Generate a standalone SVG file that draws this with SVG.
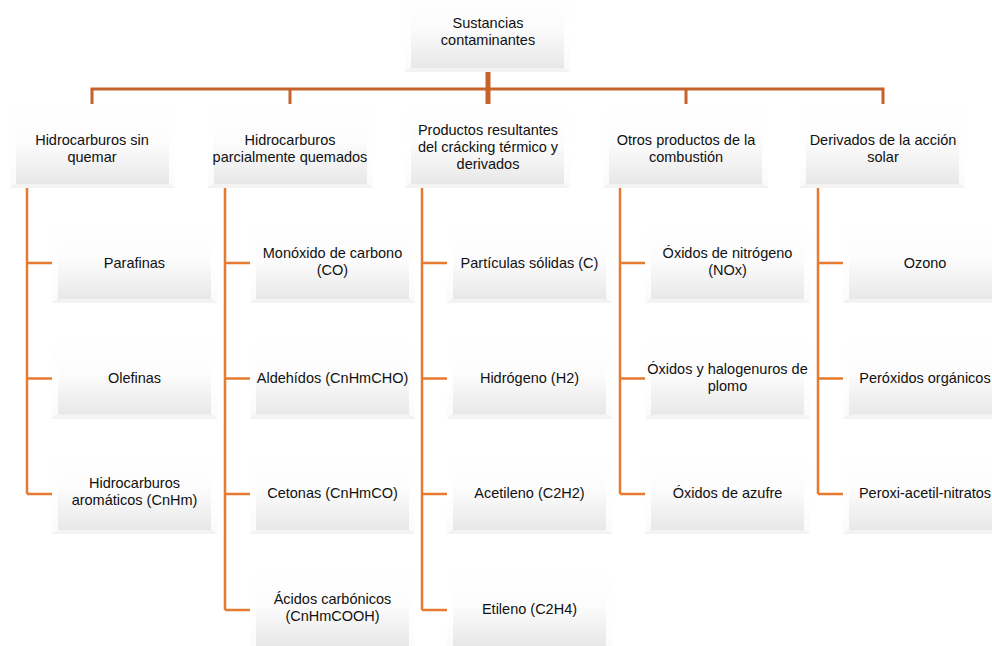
<svg xmlns="http://www.w3.org/2000/svg" xmlns:xlink="http://www.w3.org/1999/xlink" width="992" height="646" viewBox="0 0 992 646">
<defs>
<linearGradient id="gMain" x1="0" y1="0" x2="0" y2="1">
<stop offset="0" stop-color="#ffffff"/>
<stop offset="0.45" stop-color="#fcfcfc"/>
<stop offset="1" stop-color="#e6e6e6"/>
</linearGradient>
<linearGradient id="gEdge" x1="0" y1="0" x2="0" y2="1">
<stop offset="0" stop-color="#ffffff" stop-opacity="0"/>
<stop offset="0.5" stop-color="#ffffff" stop-opacity="0.95"/>
<stop offset="1" stop-color="#ffffff" stop-opacity="0.8"/>
</linearGradient>
<g id="boxL">
<rect x="0" y="0" width="165" height="83" fill="url(#gMain)"/>
<polygon points="0,0 6,8 6,79 0,83" fill="url(#gEdge)"/>
<polygon points="165,0 159,8 159,79 165,83" fill="url(#gEdge)"/>
<polygon points="0,83 6,79 159,79 165,83" fill="#f3f3f3"/>
</g>
<g id="boxC">
<rect x="0" y="0" width="165" height="80" fill="url(#gMain)"/>
<polygon points="0,0 6,8 6,76 0,80" fill="url(#gEdge)"/>
<polygon points="165,0 159,8 159,76 165,80" fill="url(#gEdge)"/>
<polygon points="0,80 6,76 159,76 165,80" fill="#f3f3f3"/>
</g>
</defs>
<style>
text{font-family:"Liberation Sans",Arial,sans-serif;font-size:14.5px;fill:#111111;text-anchor:middle}
.top{stroke:#C5622A;fill:none}
.ch{stroke:#E57A30;stroke-width:2.5;fill:none}
</style>
<g id="connectors">
<line class="top" x1="488" y1="72" x2="488" y2="104" stroke-width="5"/>
<polyline class="top" points="92,104 92,89 883,89 883,104" stroke-width="3"/>
<line class="top" x1="290" y1="89" x2="290" y2="104" stroke-width="3"/>
<line class="top" x1="686" y1="89" x2="686" y2="104" stroke-width="3"/>
<path class="ch" d="M27,188V494M27,263H52M27,378.5H52M27,494H52"/>
<path class="ch" d="M225,188V610M225,263H250M225,378.5H250M225,494H250M225,610H250"/>
<path class="ch" d="M422,188V610M422,263H447M422,378.5H447M422,494H447M422,610H447"/>
<path class="ch" d="M620,188V494M620,263H645M620,378.5H645M620,494H645"/>
<path class="ch" d="M818,188V494M818,263H843M818,378.5H843M818,494H843"/>
</g>
<g id="root"><use xlink:href="#boxL" x="405" y="-11"/><text x="488" y="28">Sustancias</text><text x="488" y="45">contaminantes</text></g>
<g id="n1"><use xlink:href="#boxL" x="10" y="105"/><text x="92" y="145">Hidrocarburos sin</text><text x="92" y="162">quemar</text></g>
<g id="n2"><use xlink:href="#boxL" x="208" y="105"/><text x="290" y="145">Hidrocarburos</text><text x="290" y="162">parcialmente quemados</text></g>
<g id="n3"><use xlink:href="#boxL" x="405" y="105"/><text x="488" y="135">Productos resultantes</text><text x="488" y="152">del crácking térmico y</text><text x="488" y="169">derivados</text></g>
<g id="n4"><use xlink:href="#boxL" x="603" y="105"/><text x="686" y="145">Otros productos de la</text><text x="686" y="162">combustión</text></g>
<g id="n5"><use xlink:href="#boxL" x="800" y="105"/><text x="883" y="145">Derivados de la acción</text><text x="883" y="162">solar</text></g>
<g id="c1a"><use xlink:href="#boxC" x="52" y="223"/><text x="134.5" y="268">Parafinas</text></g>
<g id="c1b"><use xlink:href="#boxC" x="52" y="338.5"/><text x="134.5" y="383">Olefinas</text></g>
<g id="c1c"><use xlink:href="#boxC" x="52" y="454"/><text x="134.5" y="488">Hidrocarburos</text><text x="134.5" y="505">aromáticos (CnHm)</text></g>
<g id="c2a"><use xlink:href="#boxC" x="250" y="223"/><text x="332.5" y="258">Monóxido de carbono</text><text x="332.5" y="275">(CO)</text></g>
<g id="c2b"><use xlink:href="#boxC" x="250" y="338.5"/><text x="332.5" y="383">Aldehídos (CnHmCHO)</text></g>
<g id="c2c"><use xlink:href="#boxC" x="250" y="454"/><text x="332.5" y="498">Cetonas (CnHmCO)</text></g>
<g id="c2d"><use xlink:href="#boxC" x="250" y="570"/><text x="332.5" y="604">Ácidos carbónicos</text><text x="332.5" y="621">(CnHmCOOH)</text></g>
<g id="c3a"><use xlink:href="#boxC" x="447" y="223"/><text x="529.5" y="268">Partículas sólidas (C)</text></g>
<g id="c3b"><use xlink:href="#boxC" x="447" y="338.5"/><text x="529.5" y="383">Hidrógeno (H2)</text></g>
<g id="c3c"><use xlink:href="#boxC" x="447" y="454"/><text x="529.5" y="498">Acetileno (C2H2)</text></g>
<g id="c3d"><use xlink:href="#boxC" x="447" y="570"/><text x="529.5" y="614">Etileno (C2H4)</text></g>
<g id="c4a"><use xlink:href="#boxC" x="645" y="223"/><text x="727.5" y="258">Óxidos de nitrógeno</text><text x="727.5" y="275">(NOx)</text></g>
<g id="c4b"><use xlink:href="#boxC" x="645" y="338.5"/><text x="727.5" y="374">Óxidos y halogenuros de</text><text x="727.5" y="391">plomo</text></g>
<g id="c4c"><use xlink:href="#boxC" x="645" y="454"/><text x="727.5" y="498">Óxidos de azufre</text></g>
<g id="c5a"><use xlink:href="#boxC" x="843" y="223"/><text x="925" y="268">Ozono</text></g>
<g id="c5b"><use xlink:href="#boxC" x="843" y="338.5"/><text x="925" y="383">Peróxidos orgánicos</text></g>
<g id="c5c"><use xlink:href="#boxC" x="843" y="454"/><text x="925" y="498">Peroxi-acetil-nitratos</text></g>
</svg>
